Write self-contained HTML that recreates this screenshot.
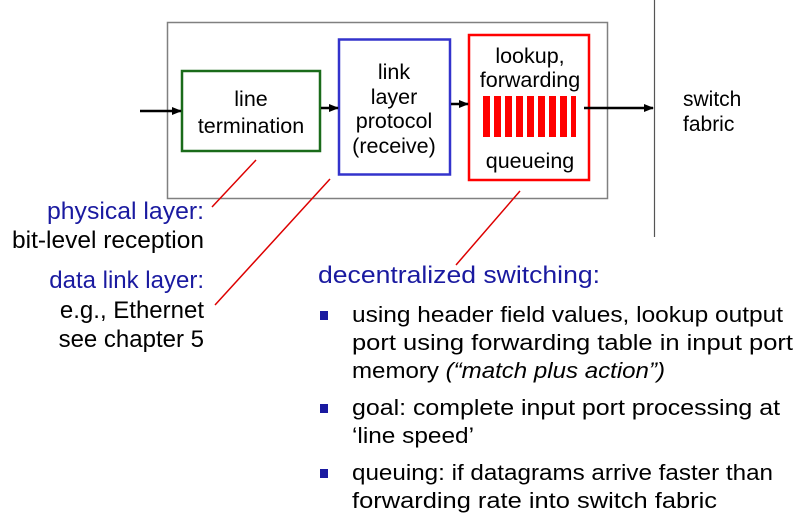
<!DOCTYPE html>
<html><head><meta charset="utf-8"><style>
html,body{margin:0;padding:0;background:#fff;}
svg{display:block;}
text{font-family:"Liberation Sans",sans-serif;}
</style></head><body>
<svg width="808" height="517" viewBox="0 0 808 517" xmlns="http://www.w3.org/2000/svg">
<defs><marker id="a" markerWidth="10" markerHeight="10" refX="9" refY="5" orient="auto" markerUnits="userSpaceOnUse"><path d="M0,1 L10,5 L0,9 z" fill="#000"/></marker></defs>
<rect x="167.5" y="22.5" width="440" height="176" fill="none" stroke="#808080" stroke-width="1.5"/>
<line x1="654.5" y1="0" x2="654.5" y2="237" stroke="#555" stroke-width="1.2"/>
<rect x="182" y="71" width="138" height="80" fill="none" stroke="#1a6b1a" stroke-width="2.5"/>
<rect x="339" y="39.5" width="111" height="135" fill="none" stroke="#3333cc" stroke-width="2.5"/>
<rect x="469" y="35" width="120" height="145" fill="none" stroke="#f00" stroke-width="2.5"/>
<g fill="#f00">
<rect x="483" y="96" width="7" height="41"/><rect x="494" y="96" width="7" height="41"/><rect x="505" y="96" width="7" height="41"/><rect x="516" y="96" width="7" height="41"/><rect x="527" y="96" width="7" height="41"/><rect x="538" y="96" width="7" height="41"/><rect x="549" y="96" width="7" height="41"/><rect x="560" y="96" width="7" height="41"/><rect x="571" y="96" width="5" height="41"/>
</g>
<g stroke="#000" stroke-width="2.5" marker-end="url(#a)">
<line x1="140" y1="111" x2="181" y2="111"/>
<line x1="321" y1="108" x2="338" y2="108"/>
<line x1="451" y1="104" x2="468" y2="104"/>
<line x1="584" y1="108" x2="653" y2="108"/>
</g>
<g stroke="#d00" stroke-width="1.5">
<line x1="212" y1="207" x2="256" y2="160"/>
<line x1="215" y1="305" x2="330" y2="179"/>
<line x1="456" y1="265" x2="520" y2="191"/>
</g>
<g font-size="21.5" text-anchor="middle" fill="#000">
<text x="251" y="106">line</text><text x="251" y="133">termination</text>
<text x="394" y="79">link</text><text x="394" y="104">layer</text><text x="394" y="128">protocol</text><text x="394" y="153">(receive)</text>
<text x="530" y="63">lookup,</text><text x="530" y="87">forwarding</text><text x="530" y="168">queueing</text>
</g>
<text x="683" y="106" font-size="21">switch</text><text x="683" y="131" font-size="21">fabric</text>
<g font-size="24" text-anchor="end">
<text x="204" y="219" fill="#1a1aa0" textLength="157" lengthAdjust="spacingAndGlyphs">physical layer:</text>
<text x="204" y="248" fill="#000" textLength="192" lengthAdjust="spacingAndGlyphs">bit-level reception</text>
<text x="204" y="288" fill="#1a1aa0">data link layer:</text>
<text x="204" y="318" fill="#000">e.g., Ethernet</text>
<text x="204" y="347" fill="#000">see chapter 5</text>
</g>
<text x="318" y="283" font-size="24" fill="#1a1aa0" textLength="282" lengthAdjust="spacingAndGlyphs">decentralized switching:</text>
<g fill="#1a1aa0"><rect x="320" y="311" width="8" height="9"/><rect x="320" y="404" width="8" height="9"/><rect x="320" y="469" width="8" height="9"/></g>
<g font-size="22" fill="#000">
<text x="352" y="322" textLength="431" lengthAdjust="spacingAndGlyphs">using header field values, lookup output</text>
<text x="352" y="350" textLength="441" lengthAdjust="spacingAndGlyphs">port using forwarding table in input port</text>
<text x="352" y="378" textLength="313" lengthAdjust="spacingAndGlyphs">memory <tspan font-style="italic">(“match plus action”)</tspan></text>
<text x="352" y="415" textLength="428" lengthAdjust="spacingAndGlyphs">goal: complete input port processing at</text>
<text x="352" y="443" textLength="122" lengthAdjust="spacingAndGlyphs">‘line speed’</text>
<text x="352" y="480" textLength="421" lengthAdjust="spacingAndGlyphs">queuing: if datagrams arrive faster than</text>
<text x="352" y="508" textLength="365" lengthAdjust="spacingAndGlyphs">forwarding rate into switch fabric</text>
</g>
</svg>
</body></html>
